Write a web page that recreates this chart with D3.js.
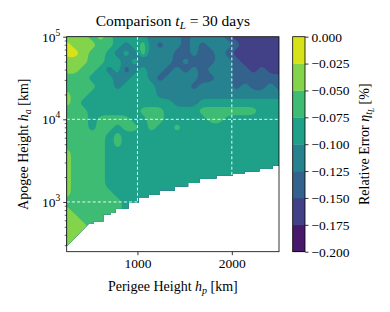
<!DOCTYPE html>
<html><head><meta charset="utf-8">
<script src="https://cdn.jsdelivr.net/npm/d3@7"></script>
<style>
body{margin:0;background:#fff}
svg{display:block}
text{font-family:"Liberation Serif","DejaVu Serif",serif;fill:#000}
</style>
</head><body>
<svg id="chart" width="390" height="312"></svg>
<script>
// ---------- data ----------
const levels = [-0.2, -0.175, -0.15, -0.125, -0.1, -0.075, -0.05, -0.025, 0];
const levelLabels = ["\u22120.200","\u22120.175","\u22120.150","\u22120.125","\u22120.100","\u22120.075","\u22120.050","\u22120.025","0.000"];
const xTicks = [1000, 2000];
const yMajorTicks = [1e3, 1e4, 1e5];
const yTickExponents = ["3", "4", "5"];
// grid of perigee heights [km]
const perigee = [250,340,430,520,610,700,790,880,970,1060,1150,1240,1330,1420,1510,1600,1690,1780,1870,1960,2050,2140,2230,2320,2410,2500];
// grid of log10 apogee heights
const logApogee = [2.4,2.5,2.6,2.7,2.8,2.9,3.0,3.1,3.2,3.3,3.4,3.5,3.6,3.7,3.8,3.9,4.0,4.1,4.2,4.3,4.4,4.5,4.6,4.7,4.8,4.9,5.0];
// relative error band index per grid cell (0 = [-0.200,-0.175] ... 7 = [-0.025,0]); top row = 1e5; '-' = no orbit
const errorBandRows = [
 "66656544443333233332111111",
 "76665543453233232333211111",
 "77655434353332232232111111",
 "66655443433332322233211111",
 "66554342343323232333221211",
 "55544433443233332233222222",
 "55554434444333323333232232",
 "65544444444333333333333333",
 "65444444444443334444444444",
 "55544444455544445555555444",
 "55545555445544444554444444",
 "55545545545445444444444444",
 "55555454444444444444444444",
 "55555454444444444444444444",
 "65555444444444444444444444",
 "65555444444444444444444444",
 "65555444444444444444444444",
 "65555444444444444444------",
 "655554444444444-----------",
 "655555444444--------------",
 "555555544-----------------",
 "6555555-------------------",
 "66555---------------------",
 "666-----------------------",
 "66------------------------",
 "6-------------------------",
 "6-------------------------"
];
// lower edge of the computed region (apogee >= perigee)
const edgeStart = [250, 292];
const stairPerigee = [484, 537, 642, 713, 765, 905, 1011, 1116, 1239, 1397, 1537, 1660, 1836, 2011, 2134, 2292, 2432, 2500];
const stairApogee  = [543, 583, 703, 737, 830, 973, 1117, 1224, 1380, 1541, 1694, 1909, 2091, 2174, 2337, 2518, 2760];

// ---------- layout ----------
const svg = d3.select("#chart");
const L = 66.7, R = 279, T = 36.7, B = 251.7;
const x = d3.scaleLinear().domain([250, 2500]).range([L, R]);
const y = d3.scaleLog().domain([250, 1e5]).range([B, T]);
const bandColor = k => d3.interpolateViridis((k + 0.5) / 8);

// ---------- grid values ----------
const nx = perigee.length, ny = logApogee.length;
const values = new Array(nx * ny);
for (let j = 0; j < ny; j++) {
  const s = errorBandRows[ny - 1 - j];
  for (let i = 0; i < nx; i++) {
    const c = s[i];
    values[j * nx + i] = c === "-" ? NaN : levels[+c] + 0.0125;
  }
}
// extend each column downward (that part is clipped away later)
for (let i = 0; i < nx; i++)
  for (let j = ny - 2; j >= 0; j--)
    if (isNaN(values[j * nx + i])) values[j * nx + i] = values[(j + 1) * nx + i];

const gxToP = d3.scaleLinear().domain([0.5, nx - 0.5]).range([perigee[0], perigee[nx - 1]]);
const gyToLog = d3.scaleLinear().domain([0.5, ny - 0.5]).range([logApogee[0], logApogee[ny - 1]]);
const toPx = ([gx, gy]) => [x(gxToP(gx)), y(Math.pow(10, gyToLog(gy)))];
const smoothRing = d3.line().curve(d3.curveBasisClosed);
const bandPath = mp => mp.coordinates.map(poly =>
  poly.map(ring => smoothRing(ring.slice(0, -1).map(toPx))).join("")).join("");

// clip region polygon
const clipPts = [[edgeStart[0], 1e5], edgeStart];
for (let k = 0; k < stairApogee.length; k++) {
  clipPts.push([stairPerigee[k], stairApogee[k]]);
  clipPts.push([stairPerigee[k + 1], stairApogee[k]]);
}
clipPts.push([stairPerigee[stairPerigee.length - 1], 1e5]);
const defs = svg.append("defs");
defs.append("clipPath").attr("id", "valid")
  .append("path")
  .attr("d", d3.line().x(d => x(d[0])).y(d => y(d[1]))(clipPts) + "Z");
defs.append("clipPath").attr("id", "plotArea")
  .append("rect").attr("x", L).attr("y", T).attr("width", R - L).attr("height", B - T);

const contours = d3.contours().size([nx, ny]).thresholds(levels.slice(0, -1))(values);
const gPlot = svg.append("g").attr("clip-path", "url(#plotArea)")
  .append("g").attr("clip-path", "url(#valid)");
gPlot.selectAll("path").data(contours).join("path")
  .attr("d", bandPath)
  .attr("fill-rule", "evenodd")
  .attr("fill", (d, k) => bandColor(k));

// dashed grid lines
const gGrid = svg.append("g").attr("stroke", "#fff").attr("stroke-width", 0.9).attr("stroke-dasharray", "3,2.2");
gGrid.selectAll(".vx").data(xTicks).join("line")
  .attr("x1", d => x(d)).attr("x2", d => x(d)).attr("y1", T).attr("y2", B);
gGrid.selectAll(".hy").data([1e3, 1e4]).join("line")
  .attr("x1", L).attr("x2", R).attr("y1", d => y(d)).attr("y2", d => y(d));

// frame
svg.append("rect").attr("x", L).attr("y", T).attr("width", R - L).attr("height", B - T)
  .attr("fill", "none").attr("stroke", "#000").attr("stroke-width", 0.8);

// x axis
const gx = svg.append("g").attr("transform", `translate(0,${B})`)
  .call(d3.axisBottom(x).tickValues(xTicks).tickSize(3.5).tickPadding(3).tickFormat(d3.format("d")));
gx.select(".domain").remove();
gx.selectAll("line").attr("stroke-width", 0.8);
gx.selectAll("text").attr("font-size", 13.5).attr("font-family", "Liberation Serif");

// y axis
const minor = y.ticks().filter(v => yMajorTicks.indexOf(v) < 0 && v > 250);
const gy = svg.append("g").attr("transform", `translate(${L},0)`);
gy.call(d3.axisLeft(y).tickValues(minor).tickSize(2).tickFormat(""));
gy.call(g => g.select(".domain").remove());
gy.selectAll("line").attr("stroke-width", 0.6);
const gyM = svg.append("g").attr("transform", `translate(${L},0)`);
gyM.call(d3.axisLeft(y).tickValues(yMajorTicks).tickSize(3.5).tickFormat(""));
gyM.select(".domain").remove();
gyM.selectAll("line").attr("stroke-width", 0.8);
yMajorTicks.forEach((v, k) => {
  const t = svg.append("text").attr("x", L - 6.5).attr("y", y(v) + 4.8)
    .attr("text-anchor", "end").attr("font-size", 13.5);
  t.append("tspan").text("10");
  t.append("tspan").attr("dy", -6).attr("font-size", 9.5).text(yTickExponents[k]);
});

// title
const title = svg.append("text").attr("x", (L + R) / 2).attr("y", 25.5)
  .attr("text-anchor", "middle").attr("font-size", 15.5);
title.append("tspan").text("Comparison ");
title.append("tspan").attr("font-style", "italic").text("t");
title.append("tspan").attr("font-size", 11).attr("font-style", "italic").attr("dy", 3).text("L");
title.append("tspan").attr("dy", -3).text(" = 30 days");

// x label
const xl = svg.append("text").attr("x", (L + R) / 2).attr("y", 291)
  .attr("text-anchor", "middle").attr("font-size", 14);
xl.append("tspan").text("Perigee Height ");
xl.append("tspan").attr("font-style", "italic").text("h");
xl.append("tspan").attr("font-size", 10).attr("font-style", "italic").attr("dy", 3).text("p");
xl.append("tspan").attr("dy", -3).text(" [km]");

// y label
const yl = svg.append("text").attr("transform", `translate(27.5,${(T + B) / 2}) rotate(-90)`)
  .attr("text-anchor", "middle").attr("font-size", 14);
yl.append("tspan").text("Apogee Height ");
yl.append("tspan").attr("font-style", "italic").text("h");
yl.append("tspan").attr("font-size", 10).attr("font-style", "italic").attr("dy", 3).text("a");
yl.append("tspan").attr("dy", -3).text(" [km]");

// colorbar
const cbL = 292.7, cbW = 12.3;
const cy = d3.scaleLinear().domain([levels[0], levels[levels.length - 1]]).range([B, T]);
svg.append("g").selectAll("rect").data(levels.slice(0, -1)).join("rect")
  .attr("x", cbL).attr("width", cbW)
  .attr("y", (d, k) => cy(levels[k + 1]))
  .attr("height", (d, k) => cy(levels[k]) - cy(levels[k + 1]) + 0.3)
  .attr("fill", (d, k) => bandColor(k));
svg.append("rect").attr("x", cbL).attr("y", T).attr("width", cbW).attr("height", B - T)
  .attr("fill", "none").attr("stroke", "#000").attr("stroke-width", 0.8);
const gc = svg.append("g").attr("transform", `translate(${cbL + cbW},0)`)
  .call(d3.axisRight(cy).tickValues(levels).tickSize(3.5).tickPadding(3)
    .tickFormat((d, k) => levelLabels[k]));
gc.select(".domain").remove();
gc.selectAll("line").attr("stroke-width", 0.8);
gc.selectAll("text").attr("font-size", 13.5).attr("font-family", "Liberation Serif");

const cl = svg.append("text").attr("transform", `translate(369,${(T + B) / 2}) rotate(-90)`)
  .attr("text-anchor", "middle").attr("font-size", 14);
cl.append("tspan").text("Relative Error ");
cl.append("tspan").attr("font-style", "italic").text("\u03B7");
cl.append("tspan").attr("font-size", 10).attr("font-style", "italic").attr("dy", 3).text("t");
cl.append("tspan").attr("font-size", 7.5).attr("font-style", "italic").attr("dy", 2).text("L");
cl.append("tspan").attr("dy", -5).text(" [%]");
</script>
</body></html>
